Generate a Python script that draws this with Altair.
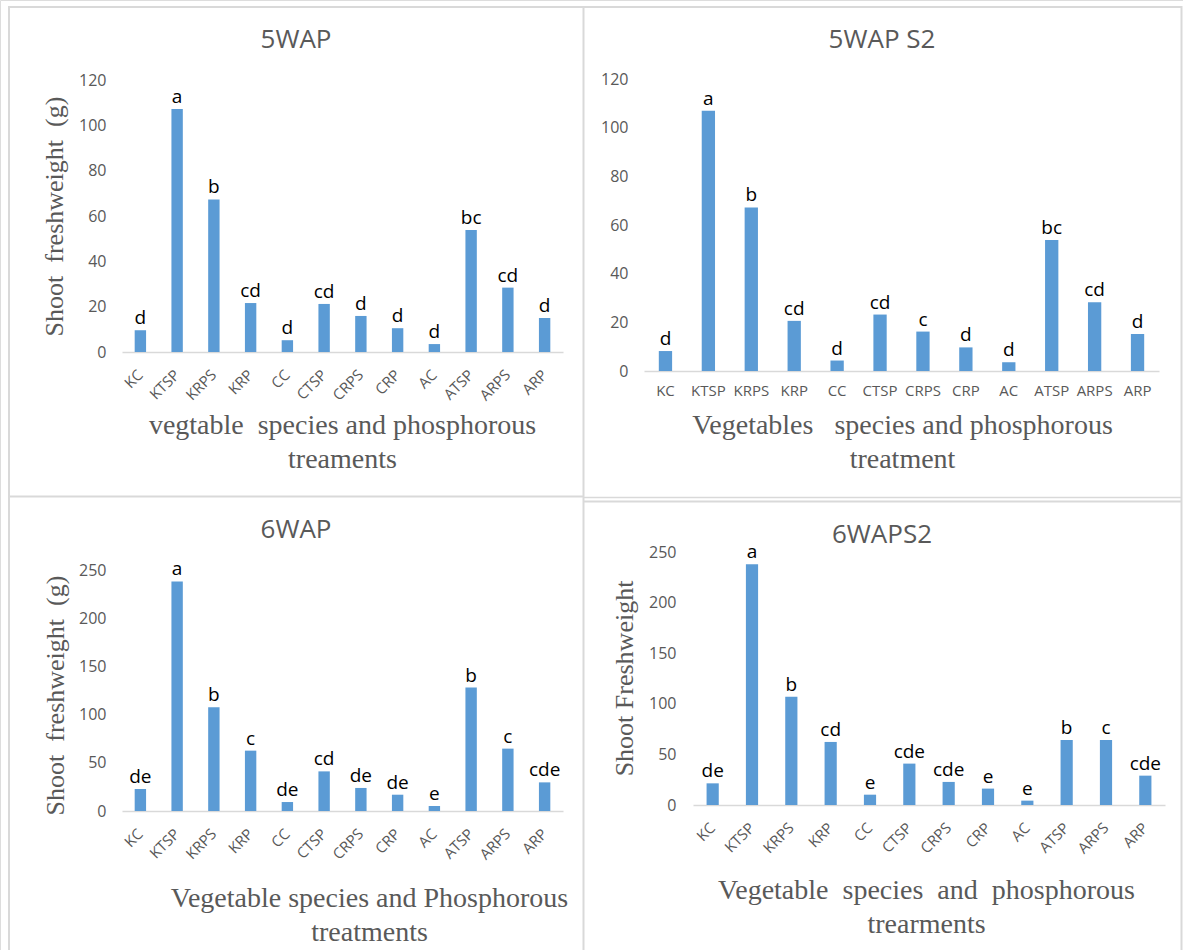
import altair as alt
import pandas as pd

# Treatment codes shared by all four trials
treatments = ["KC", "KTSP", "KRPS", "KRP", "CC", "CTSP", "CRPS", "CRP", "AC", "ATSP", "ARPS", "ARP"]

# Shoot fresh weight (g) per treatment
wap5 = [9.6, 107.2, 67.3, 21.6, 5.2, 21.2, 15.9, 10.5, 3.5, 53.8, 28.4, 15.0]
wap5_s2 = [8.2, 107.0, 67.2, 20.6, 4.3, 23.2, 16.2, 9.7, 3.6, 53.8, 28.3, 15.2]
wap6 = [22.8, 238.2, 107.5, 62.6, 9.3, 41.1, 23.9, 16.9, 5.2, 128.0, 64.7, 29.7]
wap6_s2 = [21.4, 237.8, 106.9, 62.3, 10.2, 40.9, 22.8, 16.2, 4.3, 64.3, 64.3, 29.0]

# Mean separation letters
grp_wap5 = ["d", "a", "b", "cd", "d", "cd", "d", "d", "d", "bc", "cd", "d"]
grp_wap5_s2 = ["d", "a", "b", "cd", "d", "cd", "c", "d", "d", "bc", "cd", "d"]
grp_wap6 = ["de", "a", "b", "c", "de", "cd", "de", "de", "e", "b", "c", "cde"]
grp_wap6_s2 = ["de", "a", "b", "cd", "e", "cde", "cde", "e", "e", "b", "c", "cde"]

# Axis ticks
ticks_120 = [0, 20, 40, 60, 80, 100, 120]
ticks_250 = [0, 50, 100, 150, 200, 250]

# Titles (non-breaking spaces keep the wider word gaps in SVG text)
NB = "\u00a0"
panel_titles = ["5WAP", "5WAP S2", "6WAP", "6WAPS2"]
x_titles = [
    [f"vegtable{NB} species and phosphorous", "treaments"],
    [f"Vegetables{NB}{NB} species and phosphorous", "treatment"],
    ["Vegetable species and Phosphorous", "treatments"],
    [f"Vegetable{NB} species{NB} and{NB} phosphorous", "trearments"],
]
y_titles = [f"Shoot{NB} freshweight{NB} (g)", None, f"Shoot{NB} freshweight{NB} (g)", "Shoot Freshweight"]

W, H = 1183, 950
BAR = "#5B9BD5"
GREY = "#595959"
FRAME = "#D9D9D9"
SANS = "Open Sans"
SERIF = "Liberation Serif"


def panel(values, groups, ticks, ymax, x_range, y_range, rotate,
          x_title, x_title_pos, y_title, y_title_pos, label_pad_y):
    df = pd.DataFrame({"treatment": treatments, "weight": values, "group": groups})
    x0, x1 = x_range
    ybase, ytop = y_range
    x_axis = alt.Axis(
        orient="bottom", offset=ybase - H, grid=False,
        domainColor=FRAME, domainWidth=1.5, ticks=False, tickSize=0,
        labelAngle=-45 if rotate else 0,
        labelAlign="right" if rotate else "center",
        labelBaseline="middle" if rotate else "top",
        labelPadding=20 if rotate else 12,
        labelFont=SANS, labelFontSize=15, labelColor=GREY,
        labelOverlap=False, labelBound=False, labelFlush=False,
        title=x_title, titleFont=SERIF, titleFontSize=28, titleFontWeight="normal",
        titleColor=GREY, titleX=x_title_pos[0], titleY=x_title_pos[1] - ybase,
        titleAlign="center", titleBaseline="alphabetic", titleLineHeight=34,
    )
    y_kwargs = dict(
        orient="left", offset=-x0, grid=False, domain=False, ticks=False, tickSize=0,
        values=ticks, labelFont=SANS, labelFontSize=16, labelColor=GREY,
        labelPadding=label_pad_y,
    )
    if y_title:
        y_kwargs.update(
            title=y_title, titleFont=SERIF, titleFontSize=26, titleFontWeight="normal",
            titleColor=GREY, titleX=y_title_pos[0] - x0, titleY=y_title_pos[1],
            titleAlign="center", titleBaseline="middle",
        )
    else:
        y_kwargs.update(title=None)
    y_axis = alt.Axis(**y_kwargs)

    base = alt.Chart(df).encode(
        x=alt.X("treatment:N", sort=treatments,
                scale=alt.Scale(domain=treatments, range=[x0, x1],
                                paddingInner=0.69, paddingOuter=0.345),
                axis=x_axis),
        y=alt.Y("weight:Q",
                scale=alt.Scale(domain=[0, ymax], range=[ybase, ytop], nice=False, zero=True),
                axis=y_axis),
    )
    bars = base.mark_bar(color=BAR)
    letters = base.mark_text(baseline="bottom", dy=-2, font=SANS, fontSize=19,
                             color="#000000").encode(text="group:N")
    return alt.layer(bars, letters)


p1 = panel(wap5, grp_wap5, ticks_120, 120, (122, 563), (352, 80), True,
           x_titles[0], (342, 433), y_titles[0], (54, 216), 16)
p2 = panel(wap5_s2, grp_wap5_s2, ticks_120, 120, (644, 1159), (371, 79), False,
           x_titles[1], (902, 433), y_titles[1], (0, 0), 16)
p3 = panel(wap6, grp_wap6, ticks_250, 250, (122, 563), (811, 570), True,
           x_titles[2], (369, 906), y_titles[2], (55, 695), 16)
p4 = panel(wap6_s2, grp_wap6_s2, ticks_250, 250, (693, 1165), (805, 552), True,
           x_titles[3], (926, 898), y_titles[3], (624, 678), 17)


def heading(text, cx, cy):
    return alt.Chart(alt.Data(values=[{"title": text}])).mark_text(
        font=SANS, fontSize=26, color=GREY, baseline="middle", align="center"
    ).encode(text="title:N", x=alt.value(cx), y=alt.value(cy))


headings = [
    heading(panel_titles[0], 296, 40),
    heading(panel_titles[1], 882, 40),
    heading(panel_titles[2], 296, 530),
    heading(panel_titles[3], 882, 535),
]

frame_data = alt.Data(values=[{"frame": 1}])


def hline(xa, xb, y, w=2):
    return alt.Chart(frame_data).mark_rule(color=FRAME, strokeWidth=w).encode(
        x=alt.value(xa), x2=alt.value(xb), y=alt.value(y))


def vline(x, ya, yb, w=2):
    return alt.Chart(frame_data).mark_rule(color=FRAME, strokeWidth=w).encode(
        x=alt.value(x), y=alt.value(ya), y2=alt.value(yb))


frame = [
    hline(8, 1182, 7),
    vline(9, 6, 950),
    vline(1181.5, 6, 950),
    vline(583.5, 6, 950),
    hline(8, 583, 496.5),
    hline(584, 1182, 497.5, 1.5),
    hline(584, 1182, 501.5),
]

chart = alt.layer(*frame, p1, p2, p3, p4, *headings).resolve_scale(
    x="independent", y="independent"
).resolve_axis(
    x="independent", y="independent"
).properties(
    width=W, height=H, padding=0,
    autosize=alt.AutoSizeParams(type="none"),
).configure_view(strokeWidth=0).configure(background="white")

chart.save("out.html", embed_options={"renderer": "svg", "actions": False})
